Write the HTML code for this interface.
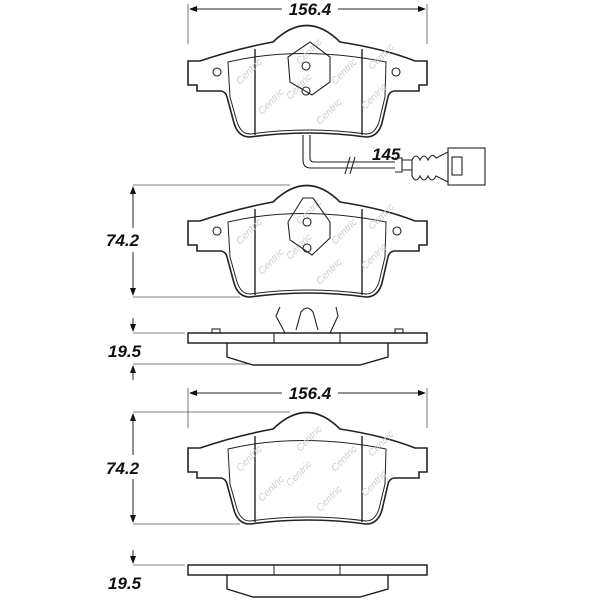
<!DOCTYPE html>
<html><head><meta charset="utf-8"><style>
html,body{margin:0;padding:0;background:#fff;}
svg{display:block}
.t{font-family:"Liberation Sans",sans-serif;font-weight:bold;font-style:italic;font-size:17px;fill:#111}
.w{font-family:"Liberation Sans",sans-serif;font-style:italic;font-size:10px;fill:#ccc}
</style></head><body>
<svg width="600" height="600" viewBox="0 0 600 600" xmlns="http://www.w3.org/2000/svg">
<defs>
<marker id="a" markerWidth="8" markerHeight="6" refX="7" refY="3" orient="auto"><path d="M0,0 L8,3 L0,6 Z" fill="#111"/></marker>
<g id="pad" fill="none" stroke="#222">
 <path stroke-width="1.6" d="M188,36 L200,36 Q235,24 273,17 Q307,-16 340,17 Q385,24 415,36 L427,36 L427,60 L419,60 L419,66 L394,66 Q389,67 388,72 L382,98 Q378,112 366,112 Q308,104 250,112 Q238,112 234,98 L227,72 Q226,67 221,66 L197,66 L197,60 L188,60 Z"/>
 <path stroke-width="1" d="M228,37 Q300,20 386,37 L385,72 L379,97 Q375,109 366,109 Q308,101 250,109 Q241,109 237,97 L230,72 Z"/>
 <line x1="255" y1="24" x2="255" y2="110" stroke-width="1.4"/>
 <line x1="362" y1="24" x2="362" y2="110" stroke-width="1.4"/>
 <g fill="#ddd" stroke="none">
  <text class="w" transform="translate(240,60) rotate(-45)">Centric</text>
  <text class="w" transform="translate(262,90) rotate(-45)">Centric</text>
  <text class="w" transform="translate(290,75) rotate(-45)">Centric</text>
  <text class="w" transform="translate(320,100) rotate(-45)">Centric</text>
  <text class="w" transform="translate(335,60) rotate(-45)">Centric</text>
  <text class="w" transform="translate(365,85) rotate(-45)">Centric</text>
  <text class="w" transform="translate(372,45) rotate(-45)">Centric</text>
  <text class="w" transform="translate(300,40) rotate(-45)">Centric</text>
 </g>
</g>
<g id="side" fill="none" stroke="#222">
 <rect x="188" y="0" width="239" height="10" stroke-width="1.5"/>
 <path stroke-width="1.4" d="M227,10 L227,24 L253,32 L360,32 L388,24 L388,10"/>
</g>
</defs>

<line x1="188" y1="4" x2="188" y2="44" stroke="#555" stroke-width="0.8"/>
<line x1="427" y1="4" x2="427" y2="44" stroke="#555" stroke-width="0.8"/>
<line x1="282" y1="9" x2="190" y2="9" stroke="#222" marker-end="url(#a)"/>
<line x1="338" y1="9" x2="425" y2="9" stroke="#222" marker-end="url(#a)"/>
<text class="t" x="310" y="15" text-anchor="middle">156.4</text>

<use href="#pad" transform="translate(0,25)"/>
<g fill="none" stroke="#222" stroke-width="1.1">
 <path d="M288,57 L310,42 L330,57 L330,82 L312,95 L290,82 Z"/>
 <circle cx="306" cy="66" r="4"/><circle cx="306" cy="91" r="4"/>
 <circle cx="217" cy="72" r="4"/><circle cx="396" cy="72" r="4"/>
 <path d="M303,135 L303,160 Q303,168 311,168 L395,168 M310,135 L310,158 Q310,162 314,162 L395,162"/>
 <path d="M395,158 L402,158 L402,172 L395,172 M402,160 L412,160 M402,170 L412,170"/>
 <path d="M412,160 Q416,152 420,160 Q424,152 428,160 Q432,152 436,158 L448,152 L448,182 L436,176 Q432,184 428,176 Q424,184 420,176 Q416,184 412,176 Z"/>
 <rect x="448" y="148" width="37" height="37"/>
 <rect x="452" y="157" width="10" height="18"/>
 <line x1="345" y1="174" x2="350" y2="157"/><line x1="350" y1="174" x2="355" y2="157"/>
</g>
<text class="t" x="372" y="160">145</text>

<line x1="133" y1="185" x2="290" y2="185" stroke="#555" stroke-width="0.8"/>
<line x1="133" y1="297" x2="240" y2="297" stroke="#555" stroke-width="0.8"/>
<line x1="133" y1="228" x2="133" y2="187" stroke="#222" marker-end="url(#a)"/>
<line x1="133" y1="252" x2="133" y2="295" stroke="#222" marker-end="url(#a)"/>
<text class="t" x="106" y="246">74.2</text>
<use href="#pad" transform="translate(0,185)"/>
<g fill="none" stroke="#222" stroke-width="1.1">
 <path d="M288,222 L303,198 L313,198 L330,222 L330,238 L312,255 L290,240 Z"/>
 <circle cx="307" cy="222" r="4"/><circle cx="307" cy="248" r="4"/>
 <circle cx="217" cy="231" r="4"/><circle cx="397" cy="231" r="4"/>
</g>

<line x1="133" y1="333" x2="185" y2="333" stroke="#555" stroke-width="0.8"/>
<line x1="133" y1="364" x2="250" y2="364" stroke="#555" stroke-width="0.8"/>
<line x1="133" y1="318" x2="133" y2="331" stroke="#222" marker-end="url(#a)"/>
<line x1="133" y1="380" x2="133" y2="366" stroke="#222" marker-end="url(#a)"/>
<text class="t" x="108" y="357">19.5</text>
<use href="#side" transform="translate(0,333)"/>
<g fill="none" stroke="#222" stroke-width="1.1">
 <line x1="274" y1="333" x2="274" y2="343"/><line x1="340" y1="333" x2="340" y2="343"/>
 <path d="M285,333 L276,316 L280,307 M330,333 L338,316 L336,307 M296,330 L301,312 Q307,304 313,312 L318,330"/>
 <rect x="212" y="329" width="8" height="4"/><rect x="395" y="329" width="8" height="4"/>
</g>

<line x1="188" y1="388" x2="188" y2="428" stroke="#555" stroke-width="0.8"/>
<line x1="427" y1="388" x2="427" y2="428" stroke="#555" stroke-width="0.8"/>
<line x1="282" y1="393" x2="190" y2="393" stroke="#222" marker-end="url(#a)"/>
<line x1="338" y1="393" x2="425" y2="393" stroke="#222" marker-end="url(#a)"/>
<text class="t" x="310" y="399" text-anchor="middle">156.4</text>

<line x1="133" y1="412" x2="290" y2="412" stroke="#555" stroke-width="0.8"/>
<line x1="133" y1="524" x2="240" y2="524" stroke="#555" stroke-width="0.8"/>
<line x1="133" y1="455" x2="133" y2="414" stroke="#222" marker-end="url(#a)"/>
<line x1="133" y1="479" x2="133" y2="522" stroke="#222" marker-end="url(#a)"/>
<text class="t" x="106" y="474">74.2</text>
<use href="#pad" transform="translate(0,412)"/>

<line x1="133" y1="565" x2="185" y2="565" stroke="#555" stroke-width="0.8"/>
<line x1="133" y1="550" x2="133" y2="563" stroke="#222" marker-end="url(#a)"/>
<text class="t" x="108" y="589">19.5</text>
<use href="#side" transform="translate(0,565)"/>
<line x1="274" y1="565" x2="274" y2="575" stroke="#222"/><line x1="340" y1="565" x2="340" y2="575" stroke="#222"/>
</svg>
</body></html>
